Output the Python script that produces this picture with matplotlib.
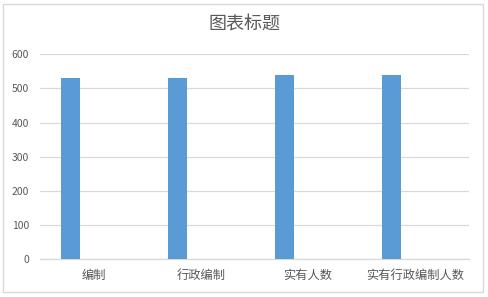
import matplotlib
matplotlib.use("Agg")
import matplotlib.pyplot as plt
from matplotlib.patches import Rectangle
import numpy as np

plt.rcParams['font.family'] = ['Noto Sans CJK SC', 'DejaVu Sans']

categories = ['编制', '行政编制', '实有人数', '实有行政编制人数']
values = [531, 531, 540, 540]
yticks = [0, 100, 200, 300, 400, 500, 600]
title = '图表标题'

W, H = 489, 297
fig = plt.figure(figsize=(W/100, H/100), dpi=100)
fig.patches.append(Rectangle((3.5/W, 1-291.5/H), 479.5/W, 288/H, transform=fig.transFigure,
                             fill=False, edgecolor='#d9d9d9', linewidth=1.0))
ax = fig.add_axes([40/W, 1-259.3/H, 428.7/W, 205/H])

x = np.arange(len(categories))
ax.bar(x - 0.219, values, width=0.177, color='#5b9bd5', zorder=3)
ax.set_xlim(-0.5, len(categories)-0.5)
ax.set_ylim(0, 600)
ax.set_yticks(yticks)
ax.set_yticklabels([str(v) for v in yticks], fontsize=7.5, color='#595959')
ax.set_xticks(x)
ax.set_xticklabels(categories, fontsize=8.8, color='#595959')
ax.tick_params(axis='both', length=0)
ax.tick_params(axis='x', pad=7)
ax.tick_params(axis='y', pad=8)
ax.grid(axis='y', color='#d9d9d9', linewidth=0.9, zorder=0)
for s in ['top', 'right', 'left']:
    ax.spines[s].set_visible(False)
ax.spines['bottom'].set_color('#d9d9d9')
ax.spines['bottom'].set_linewidth(0.9)

fig.text(244.5/W, 1-25/H, title, ha='center', va='center', fontsize=13, color='#595959')

fig.savefig('out.png', dpi=100)
